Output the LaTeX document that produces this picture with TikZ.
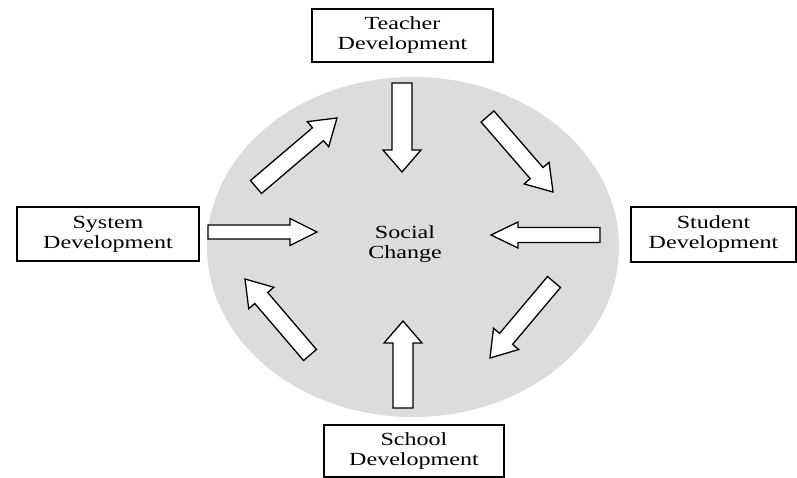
\documentclass[tikz,border=0pt]{standalone}
\usepackage{fontspec}
\newfontfamily\diagfont[FakeStretch=1.3]{Liberation Serif}
\usetikzlibrary{calc}

\definecolor{circlegray}{RGB}{220,220,220}

% #1 tail, #2 tip, #3 half shaft, #4 half head, #5 head length
\newcommand{\fatarrow}[5]{%
	\coordinate (hb) at ($(#2)!#5!(#1)$);
	\draw[arrowbody] ($(#1)!#3!90:(#2)$) -- ($(hb)!#3!90:(#2)$) -- ($(hb)!#4!90:(#2)$) -- (#2)
		-- ($(hb)!#4!-90:(#2)$) -- ($(hb)!#3!-90:(#2)$) -- ($(#1)!#3!-90:(#2)$) -- cycle;
}

\begin{document}
\begin{tikzpicture}[x=1pt, y=-1pt,
		devbox/.style={draw, line width=1.6pt, minimum width=181pt, minimum height=53pt, align=center,
			font=\diagfont\fontsize{18.5}{20}\selectfont},
		arrowbody/.style={draw, fill=white, line width=1.3pt, line join=miter}]
			\useasboundingbox (0, 0) rectangle (797, 478);
			\coordinate (O) at (413, 247);
			
			\fill[circlegray] (O) ellipse [x radius=206pt, y radius=170pt];
			
			\node[devbox] (teacher) at (402.5, 35.5) {Teacher\\Development};
			\node[devbox, minimum width=182pt, minimum height=54pt] (system) at (108, 234) {System\\Development};
			\node[devbox, minimum width=165pt, minimum height=55pt] (student) at (713.5, 234.5) {Student\\Development};
			\node[devbox, minimum width=180pt, minimum height=52pt] (school) at (414, 451) {School\\Development};
			\node[align=center, font=\diagfont\fontsize{18.5}{20}\selectfont] (change) at (405, 244) {Social\\Change};
			
			% straight arrows
			\coordinate (tdtail) at (402, 83);
			\coordinate (tdtip) at (402, 172);
			\coordinate (sutail) at (403, 408);
			\coordinate (sutip) at (403, 321);
			\coordinate (sytail) at (208, 232);
			\coordinate (sytip) at (317, 232);
			\coordinate (sttail) at (600, 235);
			\coordinate (sttip) at (491, 235);
			\fatarrow{tdtail}{tdtip}{10pt}{19pt}{22pt}
			\fatarrow{sutail}{sutip}{10pt}{19pt}{22pt}
			\fatarrow{sytail}{sytip}{7pt}{13.5pt}{27pt}
			\fatarrow{sttail}{sttip}{7.5pt}{13pt}{27pt}
			
			% diagonal arrows
			\coordinate (netail) at (256, 187);
			\coordinate (netip) at (337, 118);
			\coordinate (setail) at (487.5, 116.5);
			\coordinate (setip) at (553, 192);
			\coordinate (nwtail) at (310, 355);
			\coordinate (nwtip) at (245, 279);
			\coordinate (swtail) at (554, 282);
			\coordinate (swtip) at (490, 358);
			\fatarrow{netail}{netip}{8.5pt}{16.5pt}{25pt}
			\fatarrow{setail}{setip}{8.5pt}{16.5pt}{25pt}
			\fatarrow{nwtail}{nwtip}{8.5pt}{16.5pt}{25pt}
			\fatarrow{swtail}{swtip}{8.5pt}{16.5pt}{25pt}
			
		\end{tikzpicture}
\end{document}
